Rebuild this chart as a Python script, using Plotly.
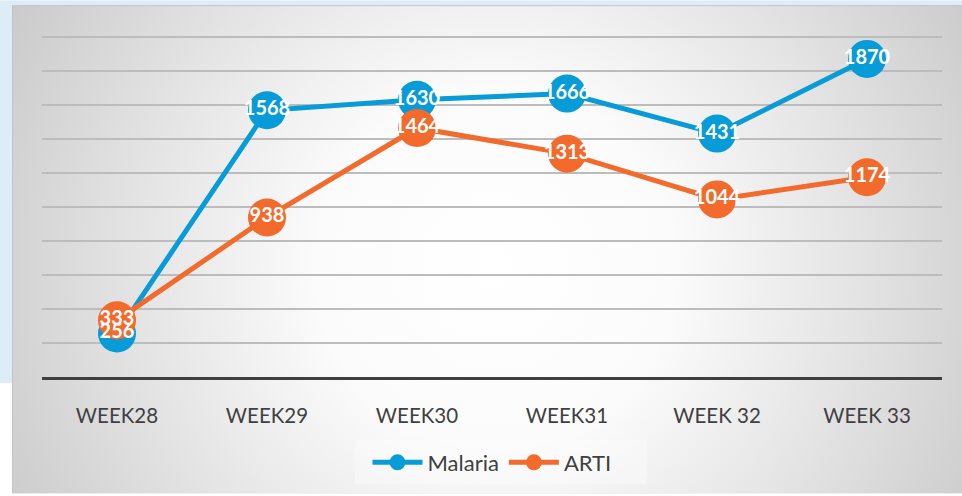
import base64
import plotly.graph_objects as go

weeks = ["WEEK28", "WEEK29", "WEEK30", "WEEK31", "WEEK 32", "WEEK 33"]
malaria = [256, 1568, 1630, 1666, 1431, 1870]
arti = [333, 938, 1464, 1313, 1044, 1174]

BLUE = "#079BD8"
ORANGE = "#F26A2C"

W, H = 962, 496
YMAX = 2040
ML, MR, MT, MB = 42, 20, 30, 117
PW, PH = W - ML - MR, H - MT - MB

svg = f"""<svg xmlns='http://www.w3.org/2000/svg' width='{W}' height='{H}' viewBox='0 0 {W} {H}'>
<defs><radialGradient id='g' gradientUnits='userSpaceOnUse' cx='495' cy='270' r='600'>
<stop offset='0' stop-color='#ffffff'/><stop offset='0.3' stop-color='#fbfbfb'/>
<stop offset='0.6' stop-color='#e4e4e4'/><stop offset='1' stop-color='#c4c4c4'/></radialGradient></defs>
<rect x='0' y='0' width='{W}' height='{H}' fill='#ffffff'/>
<rect x='0' y='0' width='{W}' height='385' fill='#dcedf8'/>
<rect x='12.5' y='5.5' width='{W-12}' height='{H-5}' fill='url(#g)' stroke='#c4c4c4' stroke-width='1'/>
<rect x='355' y='442' width='292' height='45' fill='#ffffff' fill-opacity='0.3'/>
</svg>"""
src = "data:image/svg+xml;base64," + base64.b64encode(svg.encode()).decode()

def px_x(p):
    return (p - ML) / PW

def px_y(p):
    return (H - MB - p) / PH

fig = go.Figure()
fig.add_trace(go.Scatter(x=weeks, y=malaria, name="Malaria", mode="lines+markers",
                         line=dict(color=BLUE, width=5), marker=dict(size=38, color=BLUE)))
fig.add_trace(go.Scatter(x=weeks, y=arti, name="ARTI", mode="lines+markers",
                         line=dict(color=ORANGE, width=5), marker=dict(size=38, color=ORANGE)))
lab_font = dict(family="Lato, Open Sans, sans-serif", size=20, color="white", weight="bold")
for vals in (malaria, arti):
    fig.add_trace(go.Scatter(x=weeks, y=vals, mode="text", text=[str(v) for v in vals],
                             textposition="middle center", textfont=lab_font,
                             showlegend=False, hoverinfo="skip"))

fig.update_layout(
    width=W, height=H,
    margin=dict(l=ML, r=MR, t=MT, b=MB),
    paper_bgcolor="white",
    plot_bgcolor="rgba(0,0,0,0)",
    images=[dict(source=src, xref="paper", yref="paper",
                 x=px_x(0), y=px_y(0), sizex=W / PW, sizey=H / PH,
                 xanchor="left", yanchor="top", sizing="stretch", layer="below")],
    xaxis=dict(type="category", range=[-0.5, 5.5], showgrid=False, showline=True,
               linecolor="#3f3f3f", linewidth=3, ticks="outside", ticklen=18,
               tickcolor="rgba(0,0,0,0)",
               tickfont=dict(family="Lato, Open Sans, sans-serif", size=20.5, color="#404040"),
               fixedrange=True),
    yaxis=dict(range=[0, YMAX], dtick=200, showticklabels=False, showgrid=True,
               gridcolor="#bcbcbc", gridwidth=1.5, zeroline=False, showline=False,
               fixedrange=True),
    legend=dict(orientation="h", x=0.5, xanchor="center", y=px_y(465), yanchor="middle",
                bgcolor="rgba(0,0,0,0)", itemwidth=50,
                font=dict(family="Lato, Open Sans, sans-serif", size=22, color="#404040")),
    showlegend=True,
)

fig.write_html("out.html", config={"displayModeBar": False},
               post_script="document.body.style.margin='0';document.body.style.overflow='hidden';")
